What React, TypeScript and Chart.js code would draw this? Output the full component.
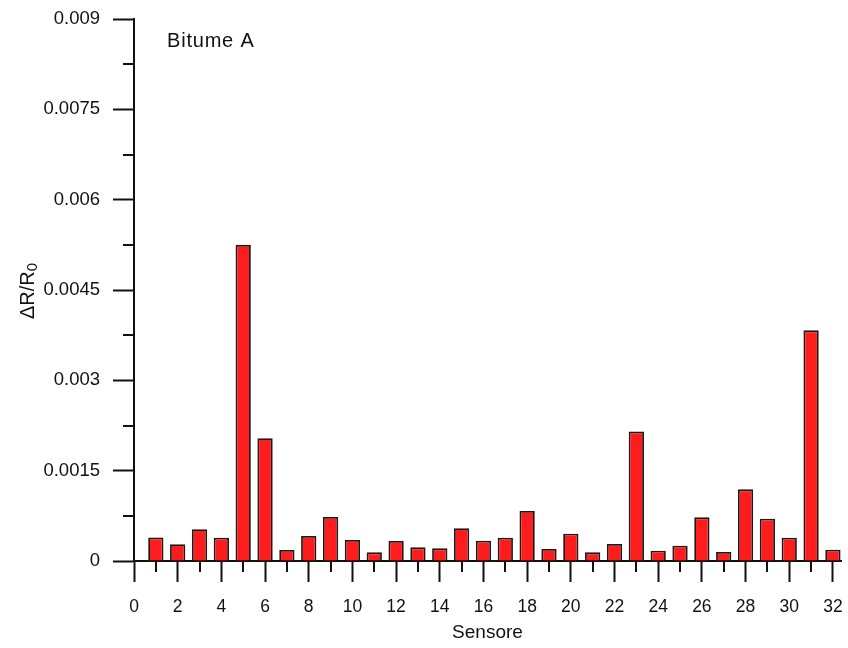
import { useEffect, useRef } from 'react';
import { Chart, registerables } from 'chart.js';

Chart.register(...registerables);

// ---- Data ----
const sensors = [
  1, 2, 3, 4, 5, 6, 7, 8, 9, 10, 11, 12, 13, 14, 15, 16,
  17, 18, 19, 20, 21, 22, 23, 24, 25, 26, 27, 28, 29, 30, 31, 32,
];
const deltaR = [
  0.00039, 0.000277, 0.000526, 0.000387, 0.00525, 0.00204, 0.000183, 0.000415,
  0.00073, 0.000349, 0.000144, 0.000332, 0.000227, 0.00021, 0.000543, 0.000338,
  0.000387, 0.00083, 0.000199, 0.000454, 0.000144, 0.000282, 0.00215, 0.000171,
  0.000254, 0.000725, 0.000149, 0.00119, 0.000703, 0.000387, 0.00383, 0.000188,
];
const yTickValues = [0, 0.0015, 0.003, 0.0045, 0.006, 0.0075, 0.009];
const yTickLabels = ['0', '0.0015', '0.003', '0.0045', '0.006', '0.0075', '0.009'];
const yMinorTicks = [0.00075, 0.00225, 0.00375, 0.00525, 0.00675, 0.00825];
const xTickValues = [0, 2, 4, 6, 8, 10, 12, 14, 16, 18, 20, 22, 24, 26, 28, 30, 32];
const xTickLabels = ['0', '2', '4', '6', '8', '10', '12', '14', '16', '18', '20', '22', '24', '26', '28', '30', '32'];
const xMinorTicks = [1, 3, 5, 7, 9, 11, 13, 15, 17, 19, 21, 23, 25, 27, 29, 31];
const xTitle = 'Sensore';
const yTitleMain = 'ΔR/R';
const yTitleSub = '0';
const panelLabel = 'Bitume A';

const FONT = "'Liberation Sans', Arial, Helvetica, sans-serif";
const INK = '#111111';

const decorPlugin = {
  id: 'decor',
  afterDraw(chart: any) {
    const { ctx, chartArea, scales } = chart;
    const x = scales.x;
    const y = scales.y;
    ctx.save();
    // minor ticks
    ctx.strokeStyle = INK;
    ctx.lineWidth = 2;
    xMinorTicks.forEach((v) => {
      const px = Math.round(x.getPixelForValue(v));
      ctx.beginPath();
      ctx.moveTo(px, chartArea.bottom);
      ctx.lineTo(px, chartArea.bottom + 11);
      ctx.stroke();
    });
    yMinorTicks.forEach((v) => {
      const py = Math.round(y.getPixelForValue(v));
      ctx.beginPath();
      ctx.moveTo(chartArea.left, py);
      ctx.lineTo(chartArea.left - 11, py);
      ctx.stroke();
    });

    // panel label
    ctx.fillStyle = INK;
    ctx.font = `20px ${FONT}`;
    ctx.textAlign = 'left';
    ctx.textBaseline = 'alphabetic';
    (ctx as any).letterSpacing = '0.8px';
    ctx.fillText(panelLabel, 167, 46.5);
    (ctx as any).letterSpacing = '0px';

    // y axis title with subscript
    const cy = (chartArea.top + chartArea.bottom) / 2 + 1;
    ctx.translate(34, cy);
    ctx.rotate(-Math.PI / 2);
    ctx.font = `20px ${FONT}`;
    const wMain = ctx.measureText(yTitleMain).width;
    ctx.font = `15px ${FONT}`;
    const wSub = ctx.measureText(yTitleSub).width;
    const start = -(wMain + wSub) / 2;
    ctx.font = `20px ${FONT}`;
    ctx.fillText(yTitleMain, start, 0);
    ctx.font = `15px ${FONT}`;
    ctx.fillText(yTitleSub, start + wMain, 3);
    ctx.restore();
  },
};

const zeroPadding = (scale: any) => {
  scale.paddingTop = 0;
  scale.paddingBottom = 0;
  scale.paddingLeft = 0;
  scale.paddingRight = 0;
};

export default function App() {
  const canvasRef = useRef<HTMLCanvasElement>(null);

  useEffect(() => {
    if (!canvasRef.current) return;
    const chart = new Chart(canvasRef.current, {
      type: 'bar',
      data: {
        datasets: [
          {
            data: sensors.map((s, i) => ({ x: s, y: deltaR[i] })),
            backgroundColor: '#ff1c1c',
            borderColor: '#1a1a1a',
            borderWidth: 1.8,
            barPercentage: 1,
            categoryPercentage: 0.7,
          },
        ],
      },
      options: {
        animation: false,
        responsive: false,
        devicePixelRatio: 1,
        layout: { padding: { left: 0, right: 7, top: 19, bottom: 6 } },
        plugins: {
          legend: { display: false },
          tooltip: { enabled: false },
          title: { display: false },
        },
        scales: {
          x: {
            type: 'linear',
            min: 0,
            max: 32.37,
            offset: false,
            afterBuildTicks: (scale: any) => {
              scale.ticks = xTickValues.map((v) => ({ value: v }));
            },
            afterFit: (scale: any) => {
              scale.height = 81;
              zeroPadding(scale);
            },
            ticks: {
              autoSkip: false,
              maxRotation: 0,
              padding: 15,
              color: INK,
              font: { family: FONT, size: 17.5 },
              callback: (_v: any, i: number) => xTickLabels[i],
            },
            grid: {
              offset: false,
              drawOnChartArea: false,
              drawTicks: true,
              tickLength: 21,
              tickWidth: 2,
              tickColor: INK,
            },
            border: { display: true, color: INK, width: 2 },
            title: {
              display: true,
              text: xTitle,
              color: INK,
              padding: 0,
              font: { family: FONT, size: 19, lineHeight: 1 },
            },
          },
          y: {
            type: 'linear',
            min: 0,
            max: 0.009,
            afterBuildTicks: (scale: any) => {
              scale.ticks = yTickValues.map((v) => ({ value: v }));
            },
            afterFit: (scale: any) => {
              scale.width = 134;
              zeroPadding(scale);
            },
            ticks: {
              autoSkip: false,
              padding: 13,
              color: INK,
              font: { family: FONT, size: 18.5 },
              callback: (_v: any, i: number) => yTickLabels[i],
            },
            grid: {
              drawOnChartArea: false,
              drawTicks: true,
              tickLength: 21,
              tickWidth: 2,
              tickColor: INK,
            },
            border: { display: true, color: INK, width: 2 },
          },
        },
      },
      plugins: [decorPlugin],
    } as any);
    return () => chart.destroy();
  }, []);

  return (
    <div style={{ position: 'absolute', left: 0, top: 0, width: 848, height: 648, background: '#fff' }}>
      <canvas ref={canvasRef} width={848} height={648} style={{ display: 'block', width: 848, height: 648 }} />
    </div>
  );
}
